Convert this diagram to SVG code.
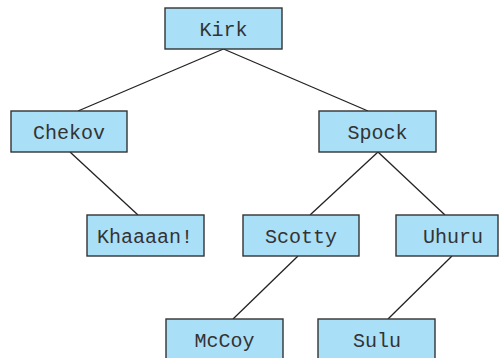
<svg xmlns="http://www.w3.org/2000/svg" width="503" height="358" viewBox="0 0 503 358">
<style>
.box{fill:#aadff8;stroke:#333;stroke-width:1.4}
.lbl{font-family:"Liberation Mono","Courier New",monospace;font-size:20px;fill:#333;text-anchor:middle}
.edge{stroke:#222;stroke-width:1.3;fill:none}
</style>
<rect width="503" height="358" fill="#fff"/>
<g id="edges">
<line class="edge" x1="223.5" y1="49" x2="78" y2="111"/>
<line class="edge" x1="223.5" y1="49" x2="368" y2="111"/>
<line class="edge" x1="70" y1="152" x2="138" y2="215"/>
<line class="edge" x1="378" y1="152" x2="310" y2="215"/>
<line class="edge" x1="378" y1="152" x2="445" y2="215"/>
<line class="edge" x1="298" y1="256" x2="233" y2="319"/>
<line class="edge" x1="452" y1="256" x2="388" y2="319"/>
</g>
<g id="kirk"><rect class="box" x="165" y="8" width="117" height="41"/><text class="lbl" x="223.5" y="35.5">Kirk</text></g>
<g id="chekov"><rect class="box" x="11" y="111" width="116" height="41"/><text class="lbl" x="69" y="138.5">Chekov</text></g>
<g id="spock"><rect class="box" x="319" y="111" width="117" height="41"/><text class="lbl" x="377.5" y="138.5">Spock</text></g>
<g id="khaaaan"><rect class="box" x="87" y="215" width="117" height="41"/><text class="lbl" x="145" y="242.5">Khaaaan!</text></g>
<g id="scotty"><rect class="box" x="243" y="215" width="116" height="41"/><text class="lbl" x="301" y="242.5">Scotty</text></g>
<g id="uhuru"><rect class="box" x="396" y="215" width="102" height="41"/><text class="lbl" x="453" y="242.5">Uhuru</text></g>
<g id="mccoy"><rect class="box" x="166" y="319" width="117" height="41"/><text class="lbl" x="224.5" y="346.5">McCoy</text></g>
<g id="sulu"><rect class="box" x="318" y="319" width="117" height="41"/><text class="lbl" x="377" y="346.5">Sulu</text></g>
</svg>
